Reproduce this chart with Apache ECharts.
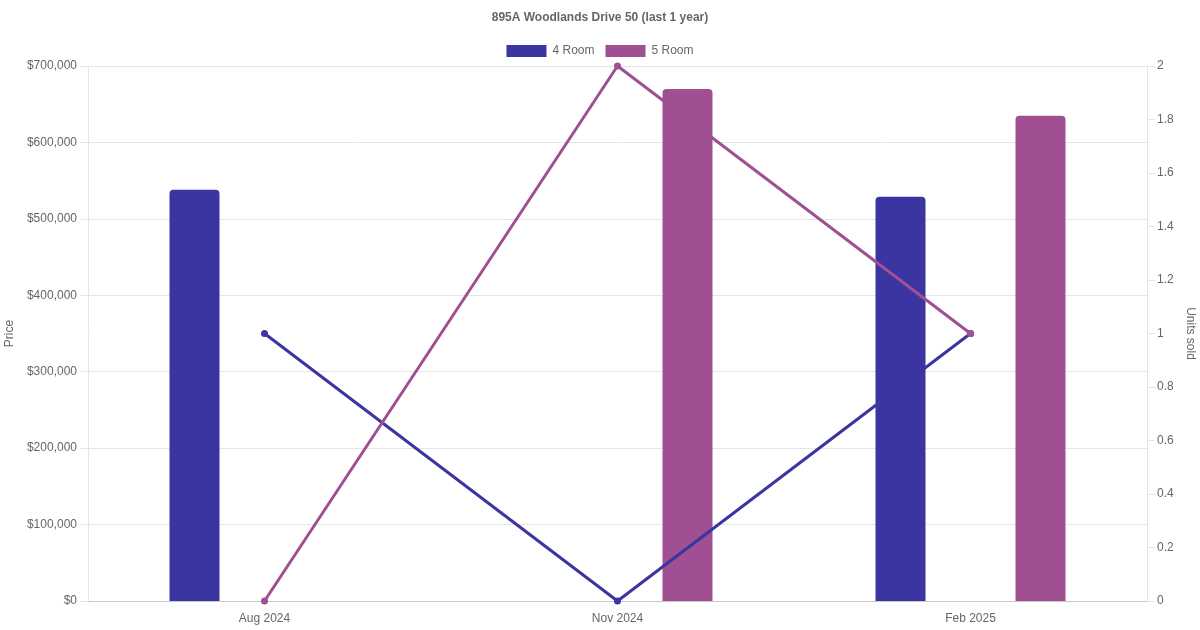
<!DOCTYPE html>
<html>
<head>
<meta charset="utf-8">
<script src="https://cdn.jsdelivr.net/npm/echarts@6/dist/echarts.min.js"></script>
<style>html,body{margin:0;padding:0;background:#fff}#c{width:1200px;height:630px}</style>
</head>
<body>
<div id="c"></div>
<script>
const categories = ['Aug 2024', 'Nov 2024', 'Feb 2025'];
const price4Room = [538000, null, 529000];
const price5Room = [null, 670000, 635000];
const units4Room = [1, 0, 1];
const units5Room = [0, 2, 1];

const C4 = '#3a35a0';
const C5 = '#a05092';
const TXT = '#666';
const FONT = '"Liberation Sans", Arial, Helvetica, sans-serif';

const chart = echarts.init(document.getElementById('c'));
chart.setOption({
  animation: false,
  textStyle: { fontFamily: FONT },
  title: {
    text: '895A Woodlands Drive 50 (last 1 year)',
    left: 'center', top: 7,
    textStyle: { fontSize: 12, fontWeight: 'bold', color: TXT, fontFamily: FONT }
  },
  legend: {
    top: 40, left: 'center',
    itemWidth: 40, itemHeight: 12, itemGap: 11, icon: 'rect',
    data: ['4 Room', '5 Room'],
    textStyle: { fontSize: 12, color: TXT, fontFamily: FONT, padding: [0, 0, 0, 1] }
  },
  grid: { left: 88, right: 53, top: 66, bottom: 29, containLabel: false, outerBoundsMode: 'none' },
  xAxis: {
    type: 'category', data: categories,
    axisLine: { lineStyle: { color: '#c8c8c8' } },
    axisTick: { show: false },
    axisLabel: { color: TXT, fontSize: 12, margin: 12, fontFamily: FONT },
    splitLine: { show: false }
  },
  yAxis: [{
    type: 'value', min: 0, max: 700000, interval: 100000,
    name: 'Price', nameLocation: 'middle', nameGap: 68,
    nameTextStyle: { color: TXT, fontSize: 12, fontFamily: FONT },
    axisLine: { show: true, lineStyle: { color: '#e5e5e5' } },
    axisTick: { show: true, length: 8, lineStyle: { color: '#e5e5e5' } },
    axisLabel: { color: TXT, fontSize: 12, margin: 11, fontFamily: FONT,
      formatter: v => '$' + v.toLocaleString('en-US') },
    splitLine: { lineStyle: { color: '#e5e5e5' } }
  }, {
    type: 'value', min: 0, max: 2, interval: 0.2, position: 'right',
    name: 'Units sold', nameLocation: 'middle', nameGap: 31, nameRotate: -90,
    nameTextStyle: { color: TXT, fontSize: 12, fontFamily: FONT },
    axisLine: { show: true, lineStyle: { color: '#e5e5e5' } },
    axisTick: { show: true, length: 8, lineStyle: { color: '#e5e5e5' } },
    axisLabel: { color: TXT, fontSize: 12, margin: 10, fontFamily: FONT,
      formatter: v => String(+v.toFixed(1)) },
    splitLine: { show: false }
  }],
  series: [{
    name: '4 Room', type: 'bar', yAxisIndex: 0, data: price4Room,
    barWidth: 50, barGap: '180%',
    itemStyle: { color: C4, borderRadius: [4, 4, 0, 0] }, z: 2
  }, {
    name: '5 Room', type: 'bar', yAxisIndex: 0, data: price5Room,
    barWidth: 50, barGap: '180%',
    itemStyle: { color: C5, borderRadius: [4, 4, 0, 0] }, z: 2
  }, {
    name: '4 Room', type: 'line', yAxisIndex: 1, data: units4Room,
    symbol: 'circle', symbolSize: 7,
    lineStyle: { color: C4, width: 3 }, itemStyle: { color: C4 }, z: 5
  }, {
    name: '5 Room', type: 'line', yAxisIndex: 1, data: units5Room,
    symbol: 'circle', symbolSize: 7,
    lineStyle: { color: C5, width: 3 }, itemStyle: { color: C5 }, z: 5
  }]
});
</script>
</body>
</html>
